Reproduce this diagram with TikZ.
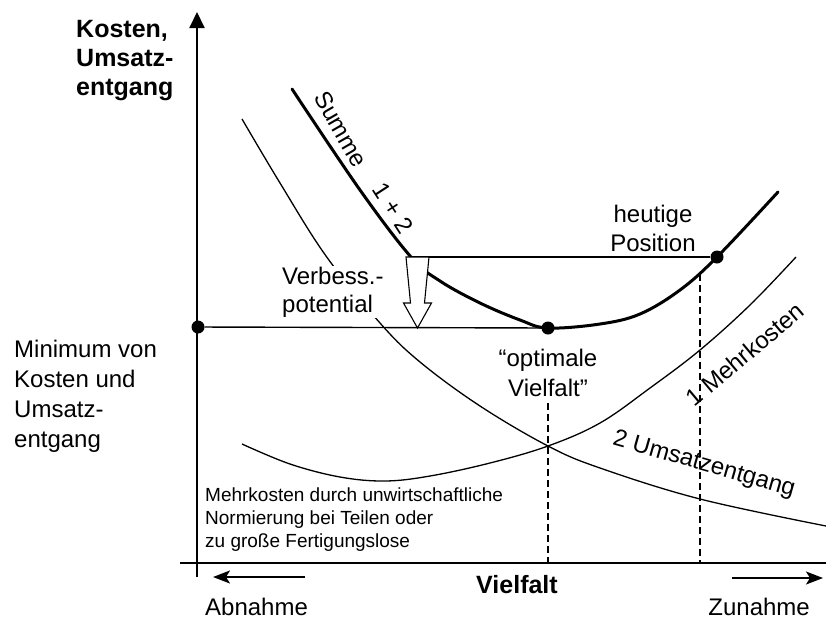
\documentclass[tikz,border=0pt]{standalone}
\usepackage{fontspec}
\setmainfont{Liberation Sans}
\usetikzlibrary{arrows.meta}
\begin{document}
\begin{tikzpicture}[x=1pt,y=-1pt,
  big/.style={font=\fontsize{24}{30}\selectfont, inner sep=0pt},
  bigbold/.style={font=\fontsize{25}{29}\selectfont\bfseries, inner sep=0pt},
  small/.style={font=\fontsize{19}{23}\selectfont, inner sep=0pt},
  thincurve/.style={line width=1.3pt},
  sumcurve/.style={line width=3pt, line cap=round},
  guide/.style={line width=1.4pt},
  dashline/.style={line width=1.2pt, dash pattern=on 7pt off 4pt},
  axis/.style={line width=2pt},
  dirarrow/.style={line width=1.8pt, -{Stealth[length=17pt,width=13pt,inset=4pt]}},
  dot/.style={circle, fill=black, inner sep=0pt, minimum size=13pt},
]
\useasboundingbox (0,0) rectangle (826,619);

% axes
\coordinate (ybot) at (197,577);
\coordinate (ytop) at (197,12);
\coordinate (xleft) at (180,563);
\coordinate (xright) at (826,563);
\draw[axis] (xleft) -- (xright);
\draw[axis,-{Triangle[length=16pt,width=15pt]}] (ybot) -- (ytop);

% curve 1: Mehrkosten
\draw[thincurve] plot[smooth, tension=0.6] coordinates {(242,444) (290,464) (340,477) (385,481) (430,476) (490,463) (548,446) (600,423) (650,388) (700,350) (750,305) (796,257)};
% curve 2: Umsatzentgang
\draw[thincurve] plot[smooth, tension=0.6] coordinates {(242,119) (280,183) (326,256) (380,323) (420,362) (480,406) (548,446) (600,468) (700,499) (826,526)};
% sum of 1 + 2
\draw[sumcurve] plot[smooth, tension=0.6] coordinates {(292,89) (360,190) (411,257) (440,281) (480,303) (520,320) (548,328) (600,324) (640,314) (680,290) (717,257) (778,192)};

% reference lines
\node[dot] (dzero) at (198,327) {};
\node[dot] (dmin) at (548,328) {};
\node[dot] (dnow) at (717,257) {};
\coordinate (vtop) at (411,257);
\draw[guide] (dzero) -- (dmin);
\draw[guide] (vtop) -- (dnow);

\coordinate (opttop) at (548,403);
\coordinate (optbot) at (548,563);
\coordinate (nowtop) at (700,274);
\coordinate (nowbot) at (700,563);
\draw[dashline] (opttop) -- (optbot);
\draw[dashline] (nowtop) -- (nowbot);

% improvement potential label and hollow arrow
\node[big, font=\fontsize{24}{28}\selectfont, align=left, anchor=base west, fill=white, inner sep=1pt] (verb) at (281,312) {Verbess.-\\potential};
\draw[line width=1.1pt, fill=white, line join=miter] (406,257) -- (429,257) -- (424.5,303) -- (431.5,303) -- (417.5,328) -- (403.5,303) -- (410.5,303) -- cycle;

% direction arrows below the axis
\coordinate (abA) at (305,577);
\coordinate (abB) at (213,577);
\coordinate (zuA) at (732,578);
\coordinate (zuB) at (823,578);
\draw[dirarrow] (abA) -- (abB);
\draw[dirarrow] (zuA) -- (zuB);

% texts (multi-line nodes are placed by the baseline of their last line)
\node[bigbold, align=left, anchor=base west] (ylab) at (76,95) {Kosten,\\Umsatz-\\entgang};
\node[big, align=left, anchor=base west] (minlab) at (14,447) {Minimum von\\Kosten und\\Umsatz-\\entgang};
\node[big, align=center, anchor=base] (optlab) at (548,396) {“optimale\\Vielfalt”};
\node[big, font=\fontsize{24}{29}\selectfont, align=center, anchor=base] (nowlab) at (653,251) {heutige\\Position};
\node[bigbold, anchor=base] (xlab) at (517,593) {Vielfalt};
\node[big, anchor=base west] (ablab) at (205,615) {Abnahme};
\node[big, anchor=base east] (zulab) at (810,615) {Zunahme};
\node[small, align=left, anchor=base west] (note) at (205,547) {Mehrkosten durch unwirtschaftliche\\Normierung bei Teilen oder\\zu große Fertigungslose};
\node[big, rotate=-60] (sumlab) at (341,129) {Summe};
\node[big, rotate=-57] (sumnum) at (393,208) {1 + 2};
\node[big, rotate=-16] (umslab) at (704,465) {2 Umsatzentgang};
\node[big, rotate=40] (mehrlab) at (745,354) {1 Mehrkosten};
\end{tikzpicture}
\end{document}
